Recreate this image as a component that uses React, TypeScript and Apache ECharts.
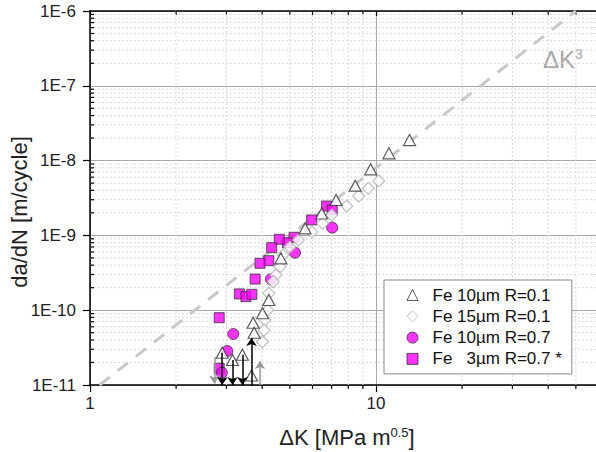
import React, { useEffect, useRef } from 'react';
import * as echarts from 'echarts';

const FONT = '"Liberation Sans", Arial, Helvetica, sans-serif';

const X_MIN = 1;
const X_MAX = 60;
const Y_MIN = 1e-11;
const Y_MAX = 1e-6;

// ΔK [MPa m^0.5], da/dN [m/cycle]
const fe10R01: number[][] = [
  [13.1, 1.88e-8], [11.1, 1.25e-8], [9.58, 7.65e-9], [8.46, 4.62e-9], [7.25, 2.97e-9],
  [6.46, 1.96e-9], [5.65, 1.24e-9], [4.65, 4.94e-10], [4.22, 1.37e-10], [4.01, 9.1e-11],
  [3.72, 6.8e-11], [3.75, 5.0e-11], [2.9, 2.7e-11], [3.15, 2.16e-11], [3.41, 2.54e-11],
  [3.67, 1.34e-11],
];
const fe15R01: number[][] = [
  [10.22, 5.34e-9], [9.4, 4.26e-9], [8.7, 3.36e-9], [7.9, 2.47e-9], [7.0, 1.87e-9],
  [6.51, 1.45e-9], [5.97, 1.11e-9], [5.35, 8.68e-10], [5.0, 7.0e-10], [4.73, 5.47e-10],
  [4.62, 3.82e-10], [4.47, 2.96e-10], [4.37, 2.4e-10], [4.22, 1.68e-10], [4.18, 1.0e-10],
  [4.09, 7.4e-11], [4.06, 5.4e-11], [4.01, 3.79e-11],
];
const fe10R07: number[][] = [
  [7.03, 1.27e-9], [5.21, 5.87e-10], [4.29, 2.59e-10], [3.17, 4.81e-11], [3.02, 2.85e-11],
  [2.89, 1.46e-11],
];
const fe3R07: number[][] = [
  [6.72, 2.47e-9], [7.03, 2.19e-9], [5.96, 1.61e-9], [5.17, 9.43e-10], [4.9, 7.98e-10],
  [4.59, 8.87e-10], [4.32, 6.85e-10], [4.22, 4.59e-10], [3.93, 4.24e-10], [3.78, 2.61e-10],
  [3.33, 1.65e-10], [3.51, 1.52e-10], [3.68, 1.63e-10], [2.83, 7.94e-11], [2.83, 1.67e-11],
];

// ΔK^3 reference line end points
const refLine: number[][] = [[1.08, 1e-11], [50, 1e-6]];

// threshold arrows
const arrowX = [2.72, 2.9, 3.15, 3.41, 3.67, 3.93];
const arrowFrom = [2.37e-11, 2.7e-11, 2.16e-11, 2.54e-11, 1.0e-11, 1.0e-11];
const arrowTo = [1.05e-11, 1.0e-11, 1.0e-11, 1.0e-11, 4.25e-11, 2.09e-11];
const arrowColor = ['#999999', '#000000', '#000000', '#000000', '#000000', '#999999'];

const seriesNames = ['Fe 10µm R=0.1', 'Fe 15µm R=0.1', 'Fe 10µm R=0.7', 'Fe \u20073µm R=0.7 *'];

const minorX = [2, 3, 4, 5, 6, 7, 8, 9, 20, 30, 40, 50];
const decadeExps = [-11, -10, -9, -8, -7];
const minorMult = [2, 3, 4, 5, 6, 7, 8, 9];

export default function App() {
  const ref = useRef<HTMLDivElement>(null);
  useEffect(() => {
    if (!ref.current) return;
    const chart = echarts.init(ref.current, null, { renderer: 'svg' });
    const minorY: number[] = [];
    decadeExps.forEach((e) => minorMult.forEach((k) => minorY.push(k * Math.pow(10, e))));
    const isDecade = (v: number) => Math.abs(Math.log10(v) - Math.round(Math.log10(v))) < 1e-6;

    const option: any = {
      animation: false,
      backgroundColor: '#ffffff',
      grid: { left: 90, top: 11, right: 11.5, bottom: 67 },
      xAxis: [
        {
          type: 'log', logBase: 10, min: X_MIN, max: X_MAX, position: 'bottom',
          axisLine: { show: true, lineStyle: { color: '#000', width: 1.5 } },
          axisTick: { show: true, inside: false, length: 7, lineStyle: { color: '#000', width: 1.2 } },
          axisLabel: {
            margin: 10, fontSize: 17, color: '#222', fontFamily: FONT,
            formatter: (v: number) => (isDecade(v) && v < X_MAX ? String(Math.round(v)) : ''),
          },
          splitLine: { show: true, lineStyle: { color: '#a8a8a8', width: 1 } },
        },
        {
          type: 'log', logBase: 10, min: X_MIN, max: X_MAX, position: 'top',
          axisLine: { show: true, lineStyle: { color: '#000', width: 1.5 } },
          axisTick: { show: true, inside: true, length: 5, lineStyle: { color: '#000', width: 1.2 } },
          axisLabel: { show: false },
          splitLine: { show: false },
        },
      ],
      yAxis: [
        {
          type: 'log', logBase: 10, min: Y_MIN, max: Y_MAX,
          axisLine: { show: true, lineStyle: { color: '#000', width: 1.5 } },
          axisTick: { show: true, inside: false, length: 7, lineStyle: { color: '#000', width: 1.2 } },
          axisLabel: {
            margin: 14, fontSize: 17, color: '#222', fontFamily: FONT,
            formatter: (v: number) => '1E' + Math.round(Math.log10(v)),
          },
          splitLine: { show: true, lineStyle: { color: '#a8a8a8', width: 1 } },
        },
      ],
      legend: {
        orient: 'vertical', left: 384, top: 280,
        padding: [6.5, 10, 6.5, 22.5], itemGap: 4.3, itemWidth: 11, itemHeight: 11,
        backgroundColor: '#ffffff', borderColor: '#8a8a8a', borderWidth: 1,
        textStyle: { fontSize: 17, color: '#111', fontFamily: FONT, padding: [0, 0, 0, 9.5] },
        itemStyle: { borderWidth: 1 },
        data: seriesNames,
        selectedMode: false,
      },
      graphic: [
        {
          type: 'text', x: 19, y: 212, rotation: Math.PI / 2,
          style: { text: 'da/dN [m/cycle]', fontSize: 22, fill: '#222', fontFamily: FONT, align: 'center', verticalAlign: 'middle' },
        },
        {
          type: 'text', x: 347, y: 437,
          style: {
            text: '{a|ΔK [MPa m}{b|0.5}{a|]}', align: 'center', verticalAlign: 'middle', fill: '#222',
            rich: {
              a: { fontSize: 22, fontFamily: FONT, fill: '#222' },
              b: { fontSize: 13, fontFamily: FONT, fill: '#222', verticalAlign: 'top' },
            },
          },
        },
        {
          type: 'text', x: 543, y: 59,
          style: {
            text: '{a|ΔK}{b|3}', align: 'left', verticalAlign: 'middle',
            rich: {
              a: { fontSize: 24, fontFamily: FONT, fill: '#a8a8a8' },
              b: { fontSize: 14, fontFamily: FONT, fill: '#a8a8a8', verticalAlign: 'top' },
            },
          },
        },
      ],
      series: [
        {
          type: 'custom', coordinateSystem: 'cartesian2d', silent: true, z: 1,
          data: minorX.map((v) => [v, Y_MIN]), encode: { x: 0, y: 1 },
          renderItem: (_p: any, api: any) => {
            const x = api.value(0);
            const b = api.coord([x, Y_MIN]);
            const t = api.coord([x, Y_MAX]);
            return {
              type: 'group', children: [
                { type: 'line', shape: { x1: b[0], y1: t[1], x2: b[0], y2: b[1] }, style: { stroke: '#dadada', lineWidth: 1, lineDash: [2, 2] } },
                { type: 'line', shape: { x1: b[0], y1: b[1], x2: b[0], y2: b[1] + 4 }, style: { stroke: '#000', lineWidth: 1.2 } },
                { type: 'line', shape: { x1: b[0], y1: t[1], x2: b[0], y2: t[1] + 4 }, style: { stroke: '#000', lineWidth: 1.2 } },
              ],
            };
          },
        },
        {
          type: 'custom', coordinateSystem: 'cartesian2d', silent: true, z: 1,
          data: minorY.map((v) => [X_MIN, v]), encode: { x: 0, y: 1 },
          renderItem: (_p: any, api: any) => {
            const y = api.value(1);
            const l = api.coord([X_MIN, y]);
            const r = api.coord([X_MAX, y]);
            return {
              type: 'group', children: [
                { type: 'line', shape: { x1: l[0], y1: l[1], x2: r[0], y2: l[1] }, style: { stroke: '#dadada', lineWidth: 1, lineDash: [2, 2] } },
                { type: 'line', shape: { x1: l[0], y1: l[1], x2: l[0] + 4, y2: l[1] }, style: { stroke: '#000', lineWidth: 1.2 } },
              ],
            };
          },
        },
        {
          type: 'line', data: refLine, showSymbol: false, silent: true, z: 2,
          lineStyle: { color: '#c8c8c8', width: 3, type: [13, 10] },
        },
        {
          name: seriesNames[3], type: 'scatter', data: fe3R07, symbol: 'rect', symbolSize: 10, z: 3,
          itemStyle: { color: '#ff00ff', borderColor: '#333', borderWidth: 1 },
        },
        {
          name: seriesNames[2], type: 'scatter', data: fe10R07, symbol: 'circle', symbolSize: 11, z: 4,
          itemStyle: { color: '#ff00ff', borderColor: '#333', borderWidth: 1 },
        },
        {
          name: seriesNames[1], type: 'scatter', data: fe15R01, symbol: 'diamond', symbolSize: 12, z: 5,
          itemStyle: { color: '#ffffff', borderColor: '#b0b0b0', borderWidth: 1.2 },
        },
        {
          name: seriesNames[0], type: 'scatter', data: fe10R01, symbol: 'triangle', symbolSize: [12, 11], z: 6,
          itemStyle: { color: '#ffffff', borderColor: '#333', borderWidth: 1.2 },
        },
        {
          type: 'lines', coordinateSystem: 'cartesian2d', silent: true, z: 7,
          symbol: ['none', 'arrow'], symbolSize: 8,
          lineStyle: { width: 1.5, opacity: 1 },
          data: arrowX.map((x, i) => ({
            coords: [[x, arrowFrom[i]], [x, arrowTo[i]]],
            lineStyle: { color: arrowColor[i] },
            itemStyle: { color: arrowColor[i] },
          })),
        },
      ],
    };
    chart.setOption(option);
    return () => chart.dispose();
  }, []);
  return (
    <div style={{ position: 'fixed', left: 0, top: 0, width: 596, height: 452, overflow: 'hidden', background: '#fff' }}>
      <div ref={ref} style={{ width: 610, height: 452 }} />
    </div>
  );
}
